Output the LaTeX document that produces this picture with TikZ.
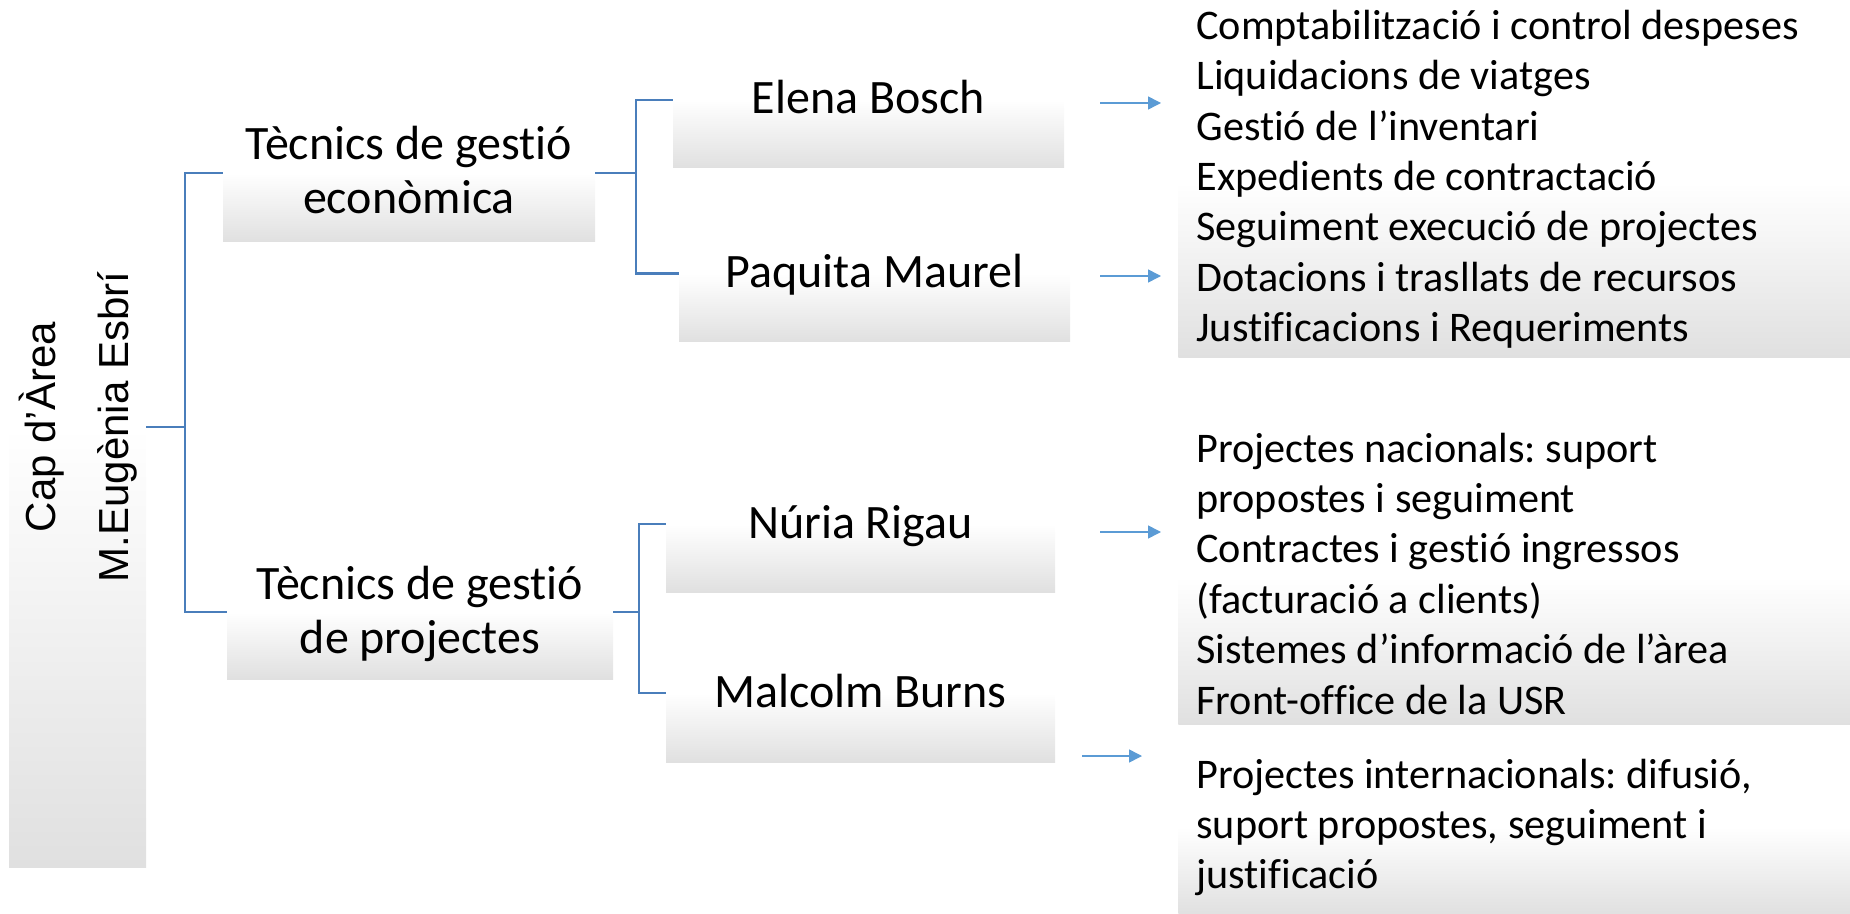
\documentclass[tikz,border=0pt]{standalone}
\usepackage{graphicx}
\usepackage{fontspec}
\setmainfont{Carlito}[Ligatures=NoCommon]
\newfontfamily\rootfont{Liberation Sans}
\usetikzlibrary{arrows.meta}
\definecolor{boxgray}{HTML}{E0E0E0}
\definecolor{linkblue}{HTML}{4A7EBB}
\definecolor{arrowblue}{HTML}{5B9BD5}
\frenchspacing
\begin{document}
\begin{tikzpicture}[x=0.5pt,y=-0.5pt,
  gbox/.style={top color=white, bottom color=boxgray, middle color=white, inner sep=0pt, draw=none},
  namebox/.style={gbox, font=\fontsize{24}{27}\selectfont, text height=14pt, text depth=0pt},
  teambox/.style={gbox, font=\fontsize{24}{27}\selectfont, text height=14pt, text depth=27pt},
  listtext/.style={inner sep=0pt, anchor=base west, font=\fontsize{21.1}{25.2}\selectfont},
  link/.style={draw=linkblue, line width=1.25pt},
  arr/.style={draw=arrowblue, line width=0.75pt, -{Triangle[length=6.5pt,width=6.5pt]}}
]
\useasboundingbox (0,0) rectangle (1850,914);

% root
\node[gbox, minimum width=68.5pt, minimum height=440pt] (root) at (77.5,427)
  {\makebox[0pt][c]{\rotatebox{90}{\rootfont\fontsize{21}{36.5}\selectfont\begin{tabular}{@{}c@{}}Cap d’Àrea\\M.Eugènia Esbrí\end{tabular}}}};

% level 1
\node[teambox, minimum width=186pt, minimum height=69pt] (eco) at (409,173)
  {\begin{tabular}[t]{@{}c@{}}Tècnics de gestió\\econòmica\end{tabular}};
\node[teambox, minimum width=193pt, minimum height=67pt] (proj) at (420,612)
  {\begin{tabular}[t]{@{}c@{}}Tècnics de gestió\\de projectes\end{tabular}};

% level 2
\node[namebox, minimum width=195.5pt, minimum height=68pt] (elena) at (868.5,100) {Elena Bosch};
\node[namebox, minimum width=195.5pt, minimum height=68.5pt] (paquita) at (874.5,273.5) {Paquita Maurel};
\node[namebox, minimum width=194.5pt, minimum height=68pt] (nuria) at (860.5,524) {Núria Rigau};
\node[namebox, minimum width=194.5pt, minimum height=69pt] (malcolm) at (860.5,693) {Malcolm Burns};

% list boxes
\node[gbox, anchor=north west, minimum width=341pt, minimum height=175pt] (lst1) at (1178,7) {};
\node[gbox, anchor=north west, minimum width=341pt, minimum height=147pt] (lst2) at (1178,430) {};
\node[gbox, anchor=north west, minimum width=341pt, minimum height=87pt] (lst3) at (1178,740) {};

% list texts
\node[listtext] (txt1) at (1196,39.3) {\begin{tabular}[t]{@{}l@{}}
Comptabilització i control despeses\\
Liquidacions de viatges\\
Gestió de l’inventari\\
Expedients de contractació\\
Seguiment execució de projectes\\
Dotacions i trasllats de recursos\\
Justificacions i Requeriments\end{tabular}};
\node[listtext] (txt2) at (1196,462) {\begin{tabular}[t]{@{}l@{}}
Projectes nacionals: suport\\
propostes i seguiment\\
Contractes i gestió ingressos\\
(facturació a clients)\\
Sistemes d’informació de l’àrea\\
Front-office de la USR\end{tabular}};
\node[listtext] (txt3) at (1196,788) {\begin{tabular}[t]{@{}l@{}}
Projectes internacionals: difusió,\\
suport propostes, seguiment i\\
justificació\end{tabular}};

% connectors
\coordinate (j0) at (185,427);
\coordinate (j1) at (636,173);
\coordinate (j2) at (639,612);
\draw[link] (root.east) -- (j0) |- (eco.west);
\draw[link] (j0) |- (proj.west);
\draw[link] (eco.east) -- (j1) |- (elena.west);
\draw[link] (j1) |- (paquita.west);
\draw[link] (proj.east) -- (j2) |- (nuria.west);
\draw[link] (j2) |- (malcolm.west);

% arrows
\coordinate (a1s) at (1100,103); \coordinate (a1e) at (1161,103);
\coordinate (a2s) at (1100,276); \coordinate (a2e) at (1161,276);
\coordinate (a3s) at (1100,532); \coordinate (a3e) at (1161,532);
\coordinate (a4s) at (1082,756); \coordinate (a4e) at (1142,756);
\draw[arr] (a1s) -- (a1e);
\draw[arr] (a2s) -- (a2e);
\draw[arr] (a3s) -- (a3e);
\draw[arr] (a4s) -- (a4e);
\end{tikzpicture}
\end{document}
